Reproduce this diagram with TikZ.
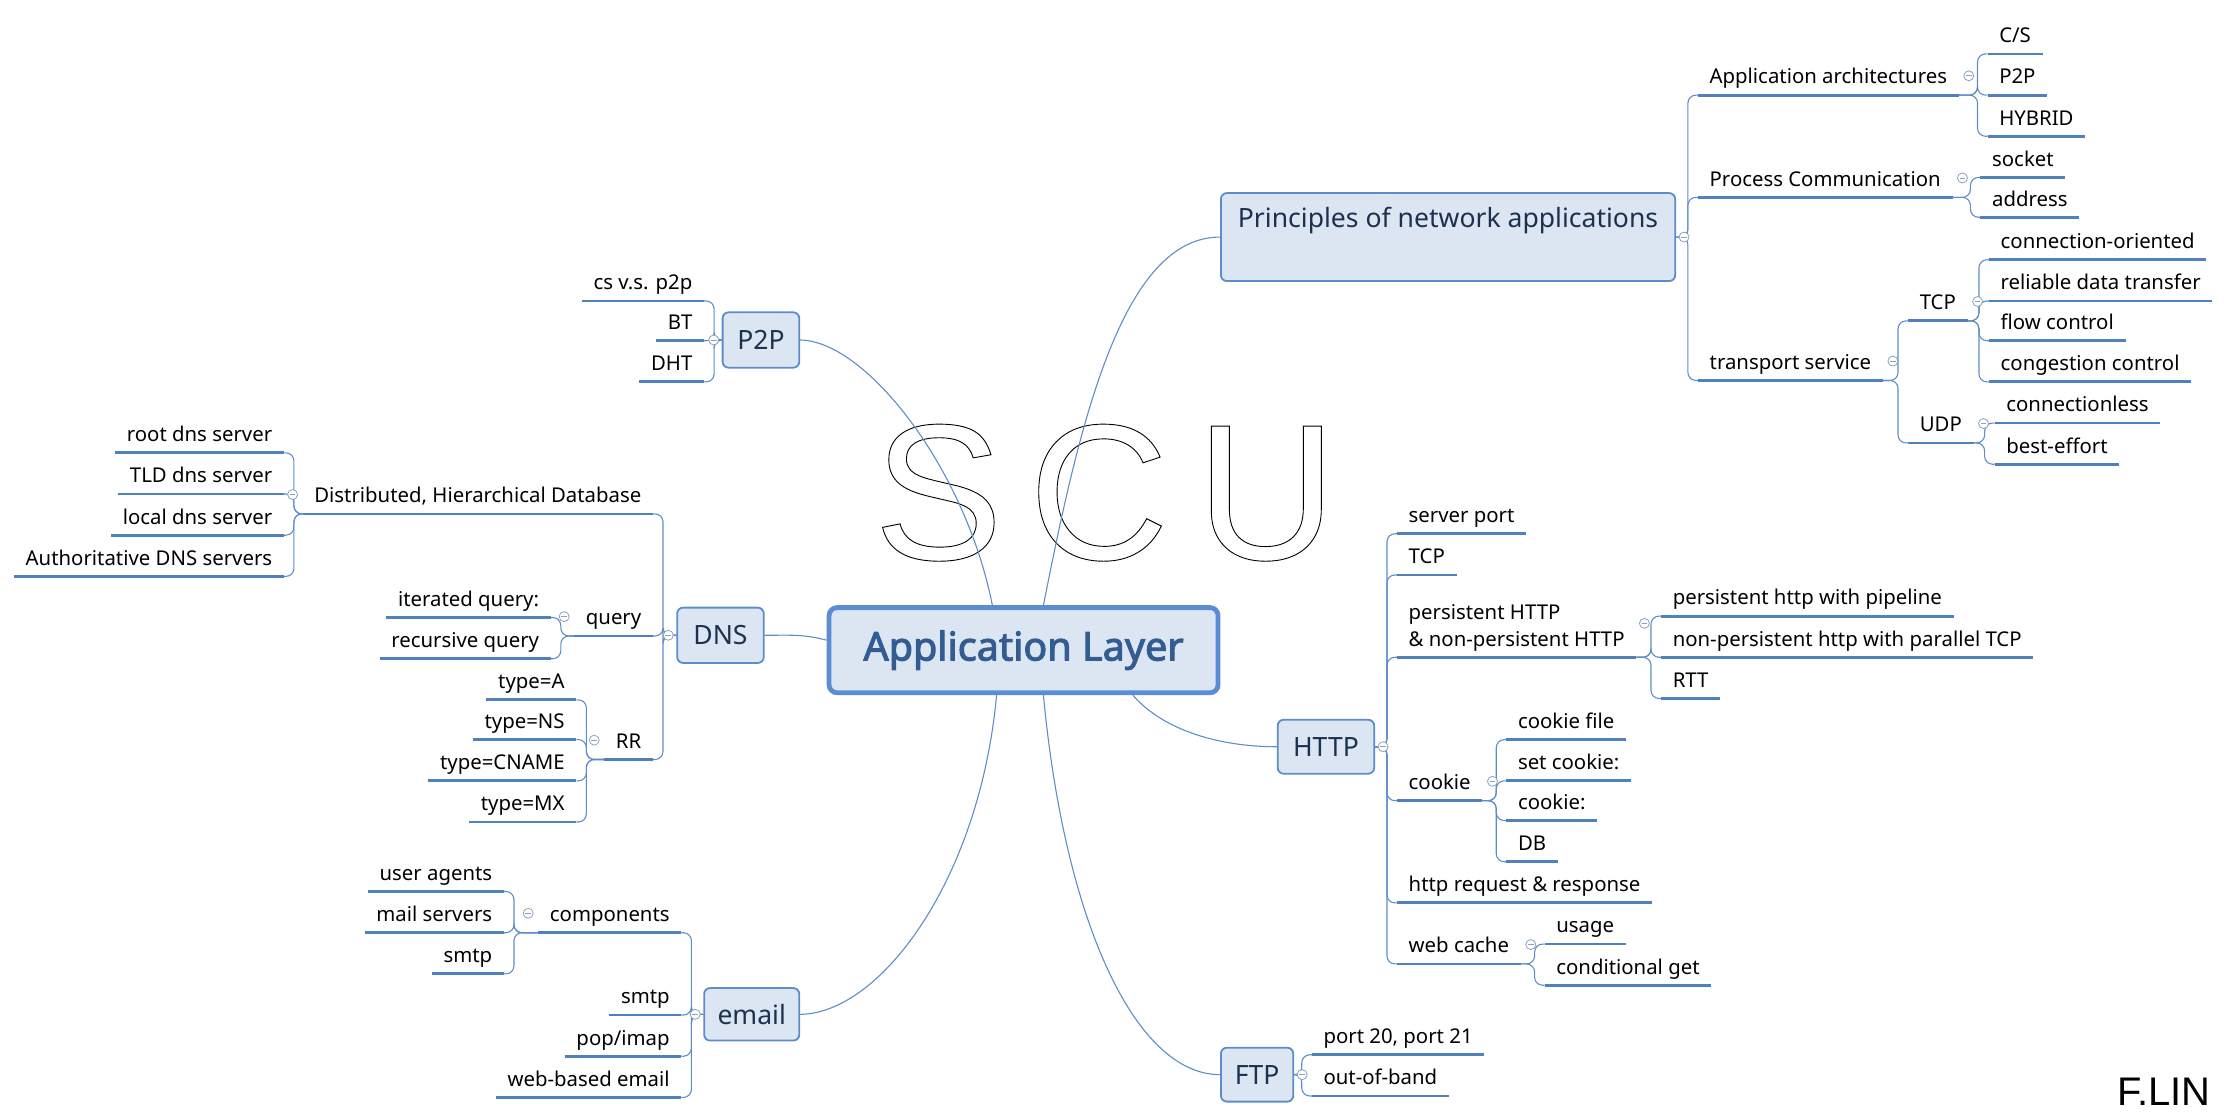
\documentclass[tikz,border=0pt]{standalone}
\usepackage{fontspec}
\setmainfont{Noto Sans}
\newfontfamily\titlefont{Noto Sans}[AutoFakeBold=2.6]
\newfontfamily\signfont{Liberation Sans}
\usetikzlibrary{calc}
\definecolor{boxfill}{HTML}{DCE6F2}
\definecolor{boxline}{HTML}{5B8CCB}
\definecolor{rootline}{HTML}{5B8DD3}
\definecolor{roottext}{HTML}{335C93}
\definecolor{topictext}{HTML}{1C3150}
\definecolor{ulinec}{HTML}{4F81BD}
\definecolor{treec}{HTML}{5F8DC6}
\definecolor{foldc}{HTML}{8AA2C0}
\newlength\pxu
\setlength\pxu{0.025cm}
\newcommand\outlined[1]{\special{pdf:literal direct 1 Tr 0.45 w}#1\special{pdf:literal direct 0 Tr}}
\tikzset{
  root/.style   = {draw=rootline,line width=2.4pt,rounded corners=4pt,fill=boxfill,
                   text=roottext,font=\titlefont\bfseries\fontsize{19.8}{24}\selectfont,
                   minimum width=274\pxu,minimum height=60\pxu},
  topic/.style  = {draw=boxline,line width=0.9pt,rounded corners=3pt,fill=boxfill,
                   text=topictext,font=\fontsize{13.3}{16}\selectfont},
  rsub/.style   = {anchor=south west,inner xsep=8\pxu,inner ysep=3pt,
                   text height=7.6pt,text depth=2.4pt,
                   append after command={(\tikzlastnode.south west)
                     edge[uline] (\tikzlastnode.south east)}},
  lsub/.style   = {rsub,anchor=south east},
  uline/.style  = {draw=ulinec,line width=1.4pt},
  tree/.style   = {draw=treec,line width=0.55pt,rounded corners=4pt},
  link/.style   = {draw=treec,line width=0.55pt},
  fold/.style   = {circle,draw=foldc,fill=white,line width=0.4pt,
                   minimum size=5pt,inner sep=0pt,
                   path picture={\draw[foldc,line width=0.4pt]
                     ([xshift=-1.4pt]path picture bounding box.center) --
                     ([xshift=1.4pt]path picture bounding box.center);}},
  wmark/.style  = {anchor=base,font=\signfont\fontsize{97}{97}\selectfont,text=black},
}
\begin{document}
\begin{tikzpicture}[x=0.025cm,y=-0.025cm,font=\fontsize{10.2}{13.5}\selectfont]
  \useasboundingbox (0,0) rectangle (1568,787);
  % watermark
  \foreach \l/\x in {S/661,C/774,U/892}
    \node[wmark] (wm\l) at (\x,394) {\outlined{\l}};
  % main topics
  \node[root] (app) at (721,458) {Application Layer};
  \node[topic,minimum width=320\pxu,minimum height=62\pxu,text height=10pt,
        text depth=20pt] (prin) at (1020,167) {Principles of network applications};
  \node[topic,minimum width=54\pxu,minimum height=39\pxu] (p2p) at (536,239.5) {P2P};
  \node[topic,minimum width=61\pxu,minimum height=39\pxu] (dns) at (507.5,447.5) {DNS};
  \node[topic,minimum width=68\pxu,minimum height=38\pxu] (http) at (934,526) {HTTP};
  \node[topic,minimum width=67\pxu,minimum height=37\pxu] (email) at (529.5,714.5) {email};
  \node[topic,minimum width=51\pxu,minimum height=38\pxu] (ftp) at (885.5,757) {FTP};

  % Principles of network applications
  \foreach \n/\y/\txt in {arch/67/Application architectures,
      proc/139/Process Communication, trans/268/transport service}
    \node[rsub] (\n) at (1196,\y) {\txt};
  \foreach \n/\y/\txt in {cs/38/{C/S}, pp/67/P2P, hyb/96/HYBRID}
    \node[rsub] (\n) at (1400,\y) {\txt};
  \foreach \n/\y/\txt in {sock/125/socket, addr/153/address}
    \node[rsub] (\n) at (1395,\y) {\txt};
  \node[rsub] (tcp) at (1344,226) {TCP};
  \node[rsub] (udp) at (1344,312) {UDP};
  \foreach \n/\y/\txt in {co/183/connection-oriented, rdt/212/reliable data transfer,
      fc/240/flow control, cc/269/congestion control}
    \node[rsub] (\n) at (1401,\y) {\txt};
  \foreach \n/\y/\txt in {cl/298/connectionless, be/327/best-effort}
    \node[rsub] (\n) at (1405,\y) {\txt};

  % HTTP and FTP
  \foreach \n/\y/\txt in {sp/376/server port, htcp/405/TCP, cook/564/cookie,
      req/636/http request \& response, wc/679/web cache}
    \node[rsub] (\n) at (984,\y) {\txt};
  \node[rsub,align=left,text height=,text depth=] (pers) at (984,463)
    {persistent HTTP\\\& non-persistent HTTP};
  \foreach \n/\y/\txt in {pipe/434/persistent http with pipeline,
      par/463/non-persistent http with parallel TCP, rtt/492/RTT}
    \node[rsub] (\n) at (1170,\y) {\txt};
  \foreach \n/\y/\txt in {cf/521/cookie file, setc/550/set cookie:,
      ck/578/cookie:, db/607/DB}
    \node[rsub] (\n) at (1061,\y) {\txt};
  \foreach \n/\y/\txt in {use/665/usage, cg/694/conditional get}
    \node[rsub] (\n) at (1088,\y) {\txt};
  \foreach \n/\y/\txt in {port/743/{port 20, port 21}, oob/772/out-of-band}
    \node[rsub] (\n) at (924,\y) {\txt};

  % P2P, DNS and email
  \foreach \n/\y/\txt in {csp/212/cs v.s. p2p, bt/240/BT, dht/269/DHT}
    \node[lsub] (\n) at (496,\y) {\txt};
  \foreach \n/\y/\txt in {dist/362/{Distributed, Hierarchical Database},
      qry/448/query, rr/535/RR}
    \node[lsub] (\n) at (460,\y) {\txt};
  \foreach \n/\y/\txt in {rootd/319/root dns server, tld/348/TLD dns server,
      locd/377/local dns server, auth/406/Authoritative DNS servers}
    \node[lsub] (\n) at (200,\y) {\txt};
  \foreach \n/\y/\txt in {itq/435/iterated query:, rcq/464/recursive query}
    \node[lsub] (\n) at (388,\y) {\txt};
  \foreach \n/\y/\txt in {ta/493/type=A, tns/521/type=NS, tcn/550/type=CNAME,
      tmx/579/type=MX}
    \node[lsub] (\n) at (406,\y) {\txt};
  \foreach \n/\y/\txt in {comp/657/components, smtp/715/smtp, pop/744/{pop/imap},
      web/773/web-based email}
    \node[lsub] (\n) at (480,\y) {\txt};
  \foreach \n/\y/\txt in {ua/628/user agents, ms/657/mail servers, sm/686/smtp}
    \node[lsub] (\n) at (355,\y) {\txt};

  % links from the central topic
  \draw[link] ([xshift=14\pxu]app.north) .. controls (760,300) and (790,167) .. (prin.west);
  \draw[link] ([xshift=-22\pxu]app.north) .. controls (680,330) and (610,240) .. (p2p.east);
  \draw[link] ([yshift=5pt]app.west) to[out=165,in=0] (dns.east);
  \draw[link] ([xshift=77\pxu]app.south) .. controls (820,515) and (860,526) .. (http.west);
  \draw[link] ([xshift=-19\pxu]app.south) .. controls (690,620) and (620,714) .. (email.east);
  \draw[link] ([xshift=14\pxu]app.south) .. controls (750,650) and (800,757) .. (ftp.west);

  % tree lines
  \foreach \p/\kids in {prin.east/{arch,proc,trans}, arch.south east/{cs,pp,hyb},
      proc.south east/{sock,addr}, trans.south east/{tcp,udp},
      tcp.south east/{co,rdt,fc,cc}, udp.south east/{cl,be},
      http.east/{sp,htcp,pers,cook,req,wc}, pers.south east/{pipe,par,rtt},
      cook.south east/{cf,setc,ck,db}, wc.south east/{use,cg},
      ftp.east/{port,oob}}
    \foreach \c in \kids
      \draw[tree] (\p) -| ([xshift=-5pt]\c.south west) -- (\c.south west);
  \foreach \p/\kids in {p2p.west/{csp,bt,dht}, dns.west/{dist,qry,rr},
      dist.south west/{rootd,tld,locd,auth}, qry.south west/{itq,rcq},
      rr.south west/{ta,tns,tcn,tmx}, email.west/{comp,smtp,pop,web},
      comp.south west/{ua,ms,sm}}
    \foreach \c in \kids
      \draw[tree] (\p) -| ([xshift=5pt]\c.south east) -- (\c.south east);

  % fold markers
  \foreach \n in {prin,http,ftp}
    \node[fold] (f\n) at ([xshift=4pt]\n.east) {};
  \foreach \n in {p2p,dns,email}
    \node[fold] (f\n) at ([xshift=-4pt]\n.west) {};
  \foreach \n in {arch,proc,trans,tcp,udp,cook,wc}
    \node[fold] (f\n) at ([xshift=5pt,yshift=1.5pt]\n.east) {};
  \foreach \n in {dist,qry,rr,comp}
    \node[fold] (f\n) at ([xshift=-5pt,yshift=1.5pt]\n.west) {};
  \node[fold] (fpers) at ([xshift=4pt,yshift=17pt]pers.south east) {};

  \node[font=\signfont\fontsize{20}{24}\selectfont,anchor=base east] (sign)
    at (1562,779) {F.LIN};
\end{tikzpicture}
\end{document}
